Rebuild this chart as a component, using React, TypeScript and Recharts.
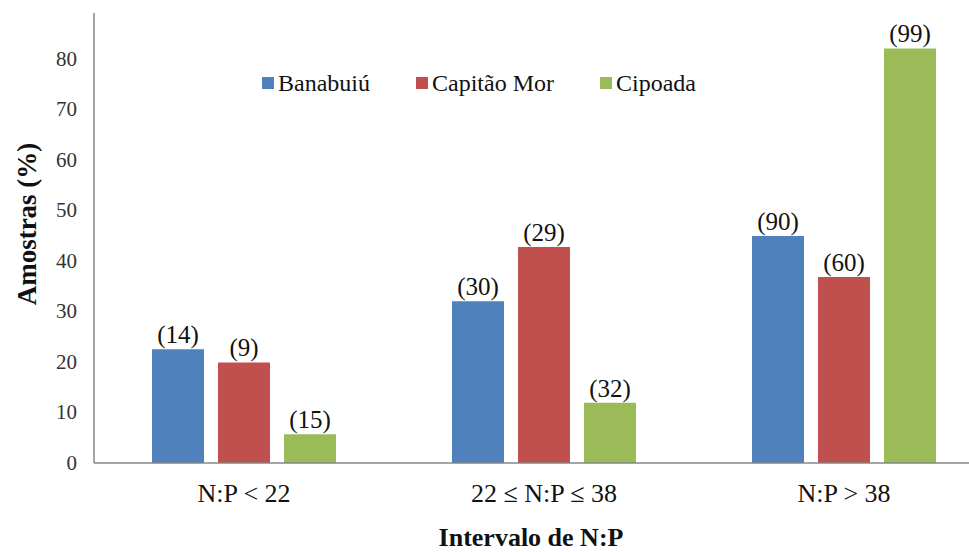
import React from 'react';
import { BarChart, Bar, XAxis, YAxis, Legend, LabelList, Label } from 'recharts';

const categories = ['N:P < 22', '22 ≤ N:P ≤ 38', 'N:P > 38'];
const banabuiu = [22.5, 32, 44.9];
const capitaoMor = [19.9, 42.7, 36.8];
const cipoada = [5.7, 11.9, 82];
const banabuiuN = [14, 30, 90];
const capitaoMorN = [9, 29, 60];
const cipoadaN = [15, 32, 99];
const yTicks = [0, 10, 20, 30, 40, 50, 60, 70, 80];

const FONT = 'Liberation Serif, Times New Roman, DejaVu Serif, serif';
const AXIS = '#868686';

const data = categories.map((c, i) => ({
  name: c,
  banabuiu: banabuiu[i],
  capitaoMor: capitaoMor[i],
  cipoada: cipoada[i],
  banabuiuN: banabuiuN[i],
  capitaoMorN: capitaoMorN[i],
  cipoadaN: cipoadaN[i],
}));

const paren = (v: any) => `(${v})`;

const CategoryTick = ({ x, y, payload }: any) => (
  <text x={x} y={y + 30} textAnchor="middle" dominantBaseline="central"
    style={{ fontFamily: FONT, fontSize: 26, fill: '#111' }}>
    {payload.value}
  </text>
);

// axis titles
const YTitle = () => {
  const cx = 27;
  const cy = 224;
  return (
    <text x={cx} y={cy} transform={`rotate(-90 ${cx} ${cy})`} textAnchor="middle"
      dominantBaseline="central" style={{ fontFamily: FONT, fontSize: 27, fontWeight: 'bold', fill: '#111' }}>
      Amostras (%)
    </text>
  );
};

const XTitle = ({ viewBox }: any) => (
  <text x={531} y={viewBox.y + 74} textAnchor="middle" dominantBaseline="central"
    style={{ fontFamily: FONT, fontSize: 26, fontWeight: 'bold', fill: '#111' }}>
    Intervalo de N:P
  </text>
);

const YTick = ({ x, y, payload }: any) => (
  <text x={x} y={y} textAnchor="end" dominantBaseline="central"
    style={{ fontFamily: FONT, fontSize: 21, fill: '#333' }}>
    {payload.value}
  </text>
);

const LegendContent = ({ payload }: any) => (
  <div style={{ display: 'flex', fontFamily: FONT, fontSize: 24, color: '#111', lineHeight: '24px' }}>
    {payload.map((p: any) => (
      <div key={p.value} style={{ display: 'flex', alignItems: 'center', marginRight: 46 }}>
        <span style={{ width: 12, height: 12, background: p.color, marginRight: 4 }} />
        <span>{p.value}</span>
      </div>
    ))}
  </div>
);

const labelStyle = { fontFamily: FONT, fontSize: 25, fill: '#111' };

export default function App() {
  return (
    <div style={{ position: 'fixed', left: 0, top: 0, width: 969, height: 552, overflow: 'hidden', background: '#fff' }}>
      <BarChart width={994} height={552} data={data}
        margin={{ top: 13, right: 0, left: 0, bottom: 0 }}
        barSize={52} barGap={14}>
        <XAxis dataKey="name" height={89} tick={<CategoryTick />} tickLine={false}
          tickSize={0} tickMargin={0} stroke={AXIS} strokeWidth={1.5}>
          <Label content={<XTitle />} />
        </XAxis>
        <YAxis width={94} domain={[0, 89]} ticks={yTicks} tickLine={false} tickSize={0}
          tickMargin={17} stroke={AXIS} strokeWidth={1.5} tick={<YTick />}>
          <Label content={<YTitle />} />
        </YAxis>
        <Legend layout="horizontal" verticalAlign="middle" align="center" content={<LegendContent />}
          wrapperStyle={{ position: 'absolute', top: 71, left: 262, width: 'auto' }} />
        <Bar dataKey="banabuiu" name="Banabuiú" fill="#4F81BD" isAnimationActive={false}>
          <LabelList dataKey="banabuiuN" position="top" offset={6} formatter={paren} style={labelStyle} />
        </Bar>
        <Bar dataKey="capitaoMor" name="Capitão Mor" fill="#C0504D" isAnimationActive={false}>
          <LabelList dataKey="capitaoMorN" position="top" offset={6} formatter={paren} style={labelStyle} />
        </Bar>
        <Bar dataKey="cipoada" name="Cipoada" fill="#9BBB59" isAnimationActive={false}>
          <LabelList dataKey="cipoadaN" position="top" offset={6} formatter={paren} style={labelStyle} />
        </Bar>
      </BarChart>
    </div>
  );
}
